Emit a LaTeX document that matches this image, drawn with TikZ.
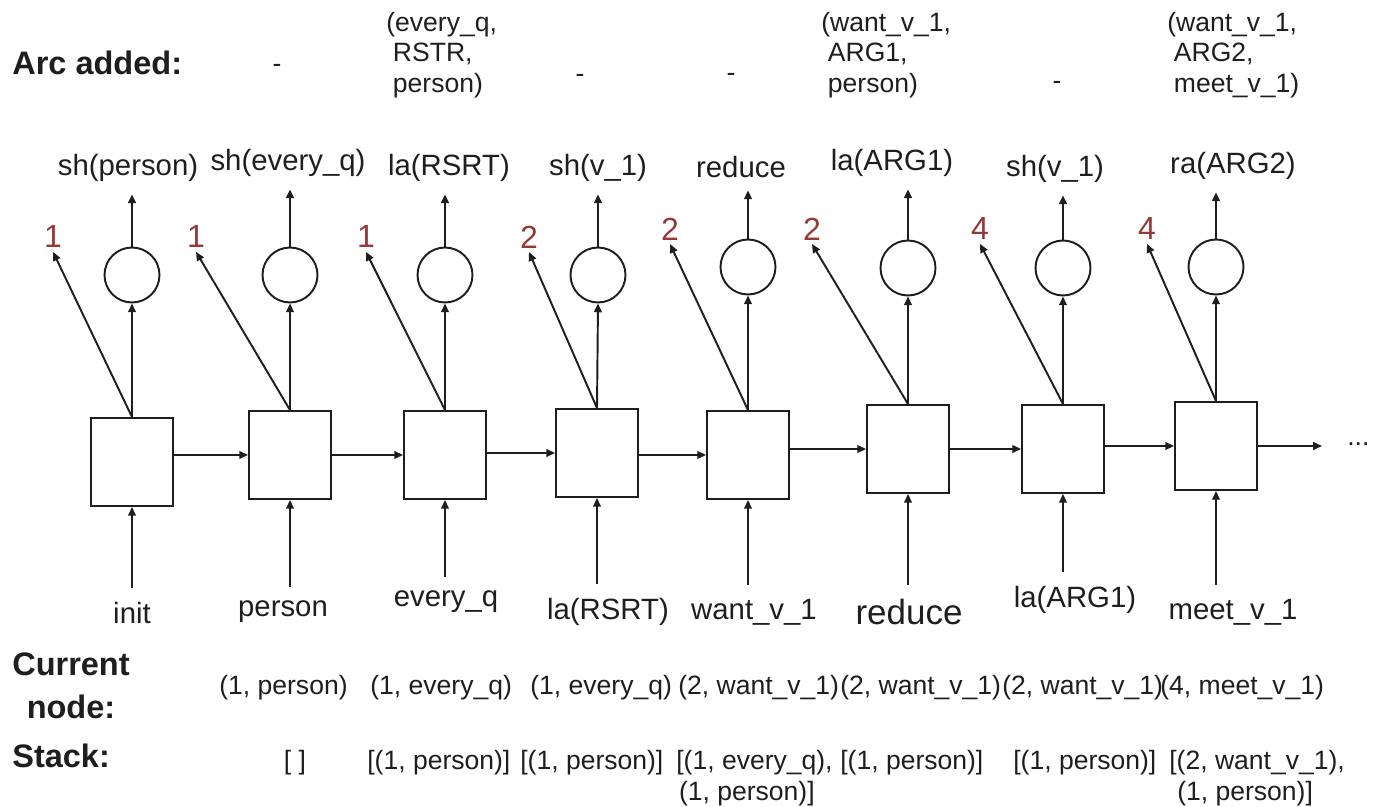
\documentclass[tikz,border=0pt]{standalone}
\usepackage{fontspec}
\setmainfont{Liberation Sans}
\usetikzlibrary{arrows.meta}
\definecolor{ParseInk}{HTML}{1E1E1E}
\definecolor{ParseIndex}{HTML}{963838}
\newcommand{\valfont}{\fontsize{15.1pt}{17.4pt}\selectfont}
\newcommand{\actfont}{\fontsize{16.7pt}{19pt}\selectfont}
\newcommand{\headfont}{\fontsize{18.5pt}{24.5pt}\selectfont\bfseries}
\tikzset{
  cell/.style={draw=ParseInk, fill=white, line width=1.1pt, minimum width=1.64cm, minimum height=1.76cm, inner sep=0pt},
  unit/.style={draw=ParseInk, circle, line width=1.1pt, minimum size=1.1cm, inner sep=0pt},
  flow/.style={draw=ParseInk, line width=1.1pt, -{Triangle[length=5pt,width=4.4pt]}},
  action/.style={text=ParseInk, font=\actfont, inner sep=7pt},
  token/.style={text=ParseInk, font=\actfont, inner sep=8pt},
  index/.style={text=ParseIndex, font=\fontsize{18.2pt}{20pt}\selectfont, inner sep=2pt},
  value/.style={text=ParseInk, font=\valfont, inner sep=0pt},
  head/.style={text=ParseInk, font=\headfont, inner sep=0pt}
}
\begin{document}
\begin{tikzpicture}[x=0.02cm,y=-0.02cm]
  \useasboundingbox (0,0) rectangle (1373,807);
  % row headers
  \node[head, anchor=west] (archead) at (12,63) {Arc added:};
  \node[head, align=center] (curhead) at (71,686) {Current\\node:};
  \node[head, anchor=west] (stackhead) at (12,756) {Stack:};
  % arcs added
  \node[value] (arc2) at (277,68) {-};
  \node[value, anchor=west, align=left] (arc3) at (386,55) {(every\_q,\\\hspace{0.25em}RSTR,\\\hspace{0.25em}person)};
  \node[value] (arc4) at (580,78) {-};
  \node[value] (arc5) at (731,77) {-};
  \node[value, anchor=west, align=left] (arc6) at (821,55) {(want\_v\_1,\\\hspace{0.25em}ARG1,\\\hspace{0.25em}person)};
  \node[value] (arc7) at (1057,85) {-};
  \node[value, anchor=west, align=left] (arc8) at (1167,55) {(want\_v\_1,\\\hspace{0.25em}ARG2,\\\hspace{0.25em}meet\_v\_1)};
  % recurrent cells
  \foreach \i/\x/\y in {1/132/462,2/290/455,3/445/455,4/597/453,5/748/455,6/908/449,7/1063/449,8/1216/446} {
    \node[cell] (b\i) at (\x,\y) {};
  }
  \foreach \i/\j in {1/2,2/3,3/4,4/5,5/6,6/7,7/8} {
    \draw[flow] (b\i.east |- b\j.west) -- (b\j.west);
  }
  \coordinate (more) at (1322,446);
  \draw[flow] (b8.east) -- (more);
  \node[value, anchor=base west] (dots) at (1347,446) {...};
  % output units and actions
  \foreach \i/\x/\y in {1/132/275,2/290/275,3/445/275,4/598/275,5/748/267,6/908/268,7/1063/268,8/1216/267} {
    \node[unit] (c\i) at (\x,\y) {};
    \draw[flow] (b\i.north) -- (c\i.south);
  }
  \foreach \i/\x/\y/\t in {1/128/168/{sh(person)},2/288/163/{sh(every\_q)},3/449/168/{la(RSRT)},4/598/168/{sh(v\_1)},5/741/167/{reduce},6/892/163/{la(ARG1)},7/1055/169/{sh(v\_1)},8/1233/166/{ra(ARG2)}} {
    \node[action] (o\i) at (\x,\y) {\t};
    \draw[flow] (c\i.north) -- (c\i.north |- o\i.south);
  }
  % node indices
  \foreach \i/\x/\y/\n in {1/53/237/1,2/196/237/1,3/366/237/1,4/529/237/2,5/670/229/2,6/812/229/2,7/980/229/4,8/1147/229/4} {
    \node[index] (n\i) at (\x,\y) {\n};
    \draw[flow] (b\i.north) -- (n\i.south);
  }
  % inputs
  \foreach \i/\x/\y/\t in {1/132/613/init,2/283/612/person,3/446/602/{every\_q},4/608/612/{la(RSRT)},5/754/612/{want\_v\_1},6/909/612/{\fontsize{19.9pt}{22pt}\selectfont reduce},7/1075/600/{la(ARG1)},8/1233/612/{meet\_v\_1}} {
    \node[token] (i\i) at (\x,\y) {\t};
    \draw[flow] (i\i.north -| b\i.south) -- (b\i.south);
  }
  % current node
  \foreach \i/\x/\t in {2/219/{(1, person)},3/370/{(1, every\_q)},4/530/{(1, every\_q)},5/678/{(2, want\_v\_1)},6/840/{(2, want\_v\_1)},7/1002/{(2, want\_v\_1)},8/1160/{(4, meet\_v\_1)}} {
    \node[value, anchor=west] (cur\i) at (\x,688) {\t};
  }
  % stack
  \node[value] (stk2) at (295,763) {[ ]};
  \foreach \i/\x/\t in {3/367/{[(1, person)]},4/520/{[(1, person)]},6/840/{[(1, person)]},7/1013/{[(1, person)]}} {
    \node[value, anchor=west] (stk\i) at (\x,763) {\t};
  }
  \node[value, anchor=north west, align=left] (stk5) at (676,750) {[(1, every\_q),\\\hspace{0.1em}(1, person)]};
  \node[value, anchor=north west, align=left] (stk8) at (1169,750) {[(2, want\_v\_1),\\\hspace{0.3em}(1, person)]};
\end{tikzpicture}
\end{document}
